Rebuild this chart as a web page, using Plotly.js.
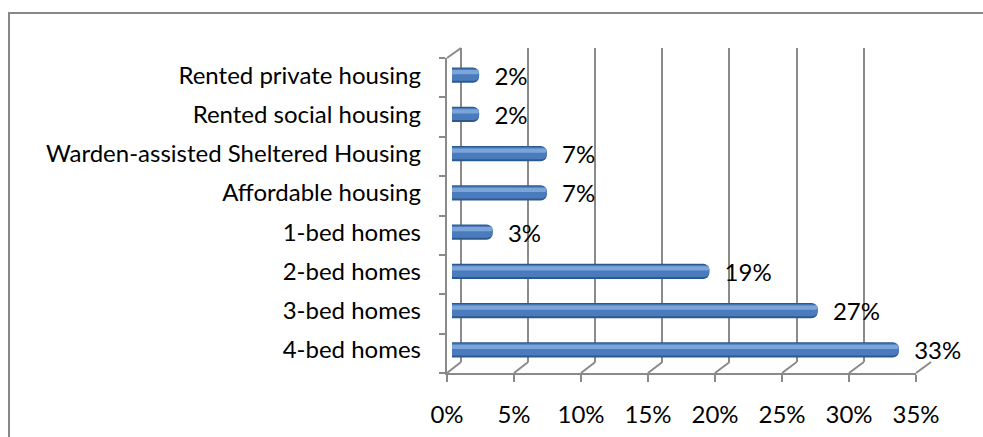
<!DOCTYPE html>
<html>
<head>
<meta charset="utf-8">
<script src="https://cdn.plot.ly/plotly-3.0.1.min.js"></script>
<style>html,body{margin:0;padding:0;background:#fff;}#chart{width:983px;height:437px;}</style>
</head>
<body>
<div id="chart"></div>
<script>
// ---- data ----
const categories = ['4-bed homes', '3-bed homes', '2-bed homes', '1-bed homes',
  'Affordable housing', 'Warden-assisted Sheltered Housing', 'Rented social housing', 'Rented private housing'];
const values = [33, 27, 19, 3, 7, 7, 2, 2];
const tickVals = [0, 5, 10, 15, 20, 25, 30, 35];
const tickText = ['0%', '5%', '10%', '15%', '20%', '25%', '30%', '35%'];

// ---- geometry (pixels) ----
const W = 983, H = 437;
const FRONT = {x0: 447, x1: 916, yTop: 58, yBot: 373};
const BACK = {x0: 461, x1: 931, yTop: 48, yBot: 362};
const MID = {x0: 452, x1: 926, yTop: 55.5, yBot: 369.5};
const GRID = '#8a8a8a';
const FONT = 'Lato, "Liberation Sans", sans-serif';
const px = p => p / W;
const py = p => 1 - p / H;

const dummy = (xa, ya) => ({type: 'scatter', mode: 'markers', x: [0], y: [0], xaxis: xa, yaxis: ya,
  marker: {opacity: 0}, hoverinfo: 'skip', showlegend: false});

const barBase = {type: 'bar', orientation: 'h', x: values, y: categories, xaxis: 'x3', yaxis: 'y3',
  hoverinfo: 'skip', showlegend: false};

const traces = [
  dummy('x', 'y'),
  dummy('x2', 'y2'),
  Object.assign({}, barBase, {width: 0.39, offset: -0.195, marker: {color: '#2C5890', cornerradius: 6},
    text: values.map(v => '\u00a0\u00a0' + v + '%'), textposition: 'outside', constraintext: 'none',
    cliponaxis: false, textfont: {family: FONT, size: 24, color: '#000'}}),
  Object.assign({}, barBase, {width: 0.31, offset: -0.145, marker: {color: '#4A7CBD', cornerradius: 5}}),
  Object.assign({}, barBase, {width: 0.11, offset: 0.02, marker: {color: '#7BA4D9', cornerradius: 3}})
];

// floor diagonals & side-wall top edge
const shapes = [];
tickVals.forEach(t => {
  const fx = FRONT.x0 + (FRONT.x1 - FRONT.x0) * t / 35;
  const bx = BACK.x0 + (BACK.x1 - BACK.x0) * t / 35;
  shapes.push({type: 'line', xref: 'paper', yref: 'paper', x0: px(fx), y0: py(FRONT.yBot), x1: px(bx), y1: py(BACK.yBot),
    line: {color: GRID, width: 2}});
});
shapes.push({type: 'line', xref: 'paper', yref: 'paper', x0: px(FRONT.x0), y0: py(FRONT.yTop), x1: px(BACK.x0), y1: py(BACK.yTop),
  line: {color: GRID, width: 2}});
// outer chart border
shapes.push({type: 'rect', xref: 'paper', yref: 'paper', x0: px(9), y0: py(13), x1: px(W + 5), y1: py(H + 5),
  line: {color: '#888888', width: 2}, fillcolor: 'rgba(0,0,0,0)'});

const layout = {
  width: W, height: H,
  margin: {l: 0, r: 0, t: 0, b: 0},
  paper_bgcolor: '#ffffff', plot_bgcolor: 'rgba(0,0,0,0)',
  barmode: 'overlay',
  font: {family: FONT, size: 24, color: '#000'},
  showlegend: false,
  // back wall gridlines
  xaxis: {domain: [px(BACK.x0), px(BACK.x1)], range: [0, 35.02], anchor: 'y', tickvals: tickVals,
    showgrid: true, gridcolor: GRID, gridwidth: 2, zeroline: true, zerolinecolor: GRID, zerolinewidth: 2,
    showticklabels: false, ticks: '', showline: false, fixedrange: true},
  yaxis: {domain: [py(BACK.yBot), py(BACK.yTop)], range: [0, 1], anchor: 'x', visible: false, fixedrange: true},
  // front axes
  xaxis2: {domain: [px(FRONT.x0), px(FRONT.x1)], range: [0, 35], anchor: 'y2', tickvals: tickVals, ticktext: tickText,
    showgrid: false, zeroline: false, showline: true, linecolor: GRID, linewidth: 2,
    ticks: 'outside', ticklen: 7, tickwidth: 2, tickcolor: GRID, ticklabelstandoff: 12,
    tickfont: {family: FONT, size: 24, color: '#000'}, fixedrange: true},
  yaxis2: {domain: [py(FRONT.yBot), py(FRONT.yTop)], range: [0, 8], anchor: 'x2', dtick: 1, tick0: 0,
    showgrid: false, zeroline: false, showline: true, linecolor: GRID, linewidth: 2,
    ticks: 'outside', ticklen: 6, tickwidth: 2, tickcolor: GRID, showticklabels: false, fixedrange: true},
  // bars
  xaxis3: {domain: [px(MID.x0), px(MID.x1)], range: [0, 35], anchor: 'y3', visible: false, fixedrange: true},
  yaxis3: {domain: [py(MID.yBot), py(MID.yTop)], type: 'category', categoryorder: 'array', categoryarray: categories,
    range: [-0.5, 7.5], anchor: 'free', position: px(421), showgrid: false, zeroline: false, showline: false,
    ticks: '', tickfont: {family: FONT, size: 24, color: '#000'}, fixedrange: true},
  shapes: shapes
};

Plotly.newPlot('chart', traces, layout, {displayModeBar: false, staticPlot: true});
</script>
</body>
</html>
